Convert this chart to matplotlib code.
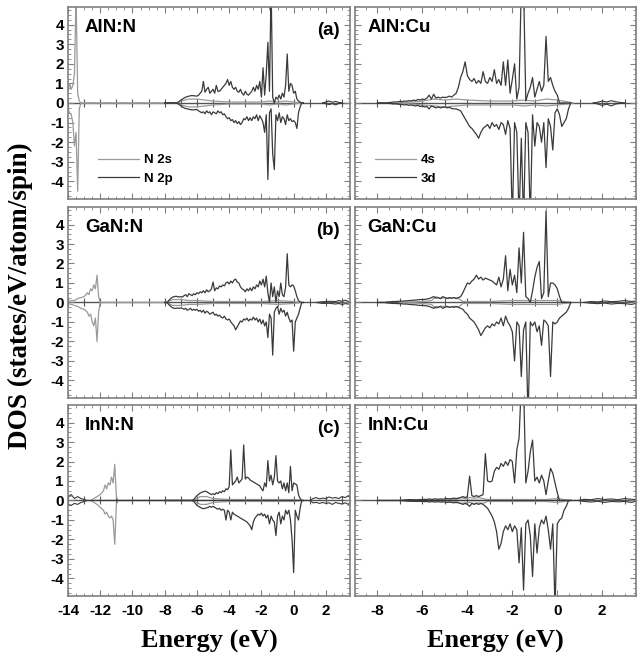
import numpy as np
import matplotlib
matplotlib.use("Agg")
import matplotlib.pyplot as plt
from matplotlib.ticker import MultipleLocator

plt.rcParams['font.family'] = 'Liberation Sans'
plt.rcParams['font.weight'] = 'bold'
plt.rcParams['axes.unicode_minus'] = False

# valence band energies (eV), 0.1 eV steps from -8.0 to 0.6
vb_energy = np.round(np.arange(-8.0, 0.65, 0.1), 1)

# ---------------- AlN:N ----------------
aln_n_2p_up = [
    0, 0, 0, 0, 0, 0, 0, 0, 0.02, 0.08,
    0.15, 0.2, 0.25, 0.3, 0.32, 0.35, 0.37, 0.38, 0.37, 0.36,
    0.35, 0.4, 0.5, 0.6, 1.1, 0.55, 0.7, 0.8, 0.5, 0.6,
    0.7, 0.5, 0.9, 0.6, 0.6, 0.7, 0.8, 0.9, 1.0, 1.2,
    0.9, 1.1, 0.8, 0.7, 0.8, 0.6, 0.55, 0.7, 0.5, 0.4,
    0.6, 0.45, 0.4, 0.5, 0.6, 0.8, 0.6, 0.9, 0.7, 1.1,
    0.3, 1.8, 0.4, 1.5, 3.1, 0.6, 6.0, 0.3, 0.0, 0.3,
    0.2, 0.4, 0.2, 0.5, 0.3, 0.9, 2.5, 0.6, 1.0, 0.9,
    0.5, 0.6, 0.2, 0.1, 0.05, 0, 0]
aln_n_2p_dn = [
    0, 0, 0, 0, 0, 0, 0, 0, -0.02, -0.08,
    -0.15, -0.2, -0.25, -0.28, -0.3, -0.32, -0.34, -0.35, -0.35, -0.34,
    -0.33, -0.4, -0.45, -0.5, -0.45, -0.55, -0.4, -0.5, -0.45, -0.6,
    -0.45, -0.5, -0.55, -0.4, -0.5, -0.45, -0.6, -0.55, -0.7, -0.8,
    -0.75, -0.9, -0.85, -1.0, -0.9, -1.05, -0.95, -1.1, -1.0, -0.8,
    -0.85, -0.7, -0.9, -0.75, -0.9, -0.7, -0.8, -0.6, -0.9, -0.65,
    -0.8, -1.0, -1.5, -0.6, -3.9, -0.5, -0.3, -2.6, -3.4, -0.6,
    -0.9, -0.5, -1.0, -0.7, -0.8, -1.1, -0.6, -0.9, -0.8, -0.95,
    -0.9, -1.0, -1.3, -0.5, -0.2, 0, 0]
aln_n_2s_e = [-14.0, -13.9, -13.8, -13.7, -13.6, -13.5, -13.4, -13.3, -13.2,
              -7.3, -7.0, -6.5, -6.0, -5.5, -5.0, -4.0, -3.0, -2.0, -1.5, -1.0, -0.5, 0.0, 0.5]
aln_n_2s_up = [0.6, 1.0, 0.7, 0.9, 1.5, 5.5, 0.5, 0.1, 0,
               0, 0.1, 0.2, 0.2, 0.15, 0.1, 0.05, 0.05, 0.05, 0.1, 0.05, 0.1, 0.05, 0]
aln_n_2s_dn = [-0.3, -0.5, -0.6, -1.0, -2.2, -1.5, -4.5, -0.3, 0,
               0, -0.1, -0.2, -0.2, -0.15, -0.1, -0.05, -0.05, -0.05, -0.1, -0.05, -0.1, -0.05, 0]
aln_n_tail_e = [1.8, 2.0, 2.2, 2.4, 2.6, 2.8, 3.0]
aln_n_tail_up = [0, 0.05, 0.1, 0.04, 0.08, 0.03, 0]
aln_n_tail_dn = [0, -0.04, -0.08, -0.03, -0.1, -0.02, 0]

# ---------------- GaN:N ----------------
gan_n_2p_up = [
    0, 0, 0.05, 0.15, 0.22, 0.28, 0.3, 0.32, 0.3, 0.28,
    0.3, 0.28, 0.35, 0.4, 0.3, 0.45, 0.4, 0.35, 0.45, 0.4,
    0.5, 0.45, 0.55, 0.5, 0.6, 0.5, 0.65, 0.55, 0.6, 0.7,
    1.05, 0.6, 0.75, 0.7, 0.85, 0.8, 0.9, 0.85, 1.0, 1.05,
    0.95, 1.1, 1.0, 1.15, 1.2, 1.05, 1.0, 0.8, 0.7, 0.65,
    0.55, 0.7, 0.6, 0.75, 0.6, 0.8, 0.7, 0.9, 0.8, 1.1,
    0.9, 1.2, 0.8, 1.35, 0.5, 0.0, 1.0, 0.3, 0.8, 0.0,
    0.6, 0.3, 1.0, 0.4, 0.3, 0.8, 2.5, 0.9, 0.8, 0.9,
    0.85, 0.6, 0.3, 0.1, 0.02, 0, 0]
gan_n_2p_dn = [
    0, 0, -0.05, -0.15, -0.22, -0.28, -0.3, -0.3, -0.28, -0.3,
    -0.28, -0.3, -0.35, -0.3, -0.4, -0.35, -0.3, -0.4, -0.35, -0.4,
    -0.35, -0.45, -0.4, -0.5, -0.4, -0.55, -0.45, -0.5, -0.6, -0.55,
    -0.5, -0.65, -0.6, -0.7, -0.65, -0.75, -0.8, -0.7, -0.85, -0.9,
    -0.85, -1.0, -1.1, -1.2, -1.4, -1.25, -1.1, -0.95, -1.0, -0.85,
    -0.9, -0.8, -0.95, -0.85, -0.9, -0.75, -0.9, -0.8, -1.0, -0.85,
    -1.1, -0.9, -1.2, -1.0, -1.8, -0.6, -0.8, -2.7, -0.5, -0.3,
    -0.2, -0.6, -0.3, -0.5, -0.4, -0.7, -0.5, -0.8, -1.0, -0.9,
    -2.5, -1.0, -0.8, -0.6, -0.3, 0, 0]
gan_n_2s_e = [-14.0, -13.8, -13.6, -13.4, -13.2, -13.0, -12.8, -12.7, -12.6, -12.5, -12.4,
              -12.3, -12.2, -12.1, -12.0,
              -7.9, -7.5, -7.0, -6.5, -6.0, -5.0, -4.0, -3.0, -2.0, -1.0, 0.0, 0.5]
gan_n_2s_up = [0.05, 0.1, 0.1, 0.2, 0.25, 0.3, 0.5, 0.4, 0.7, 0.6, 0.9, 0.7, 1.4, 0.3, 0,
               0, 0.15, 0.15, 0.1, 0.1, 0.05, 0.05, 0.05, 0.05, 0.1, 0.05, 0]
gan_n_2s_dn = [-0.05, -0.1, -0.15, -0.2, -0.3, -0.35, -0.5, -0.7, -0.6, -1.0, -1.2, -0.8, -2.0, -0.5, 0,
               0, -0.15, -0.15, -0.1, -0.1, -0.05, -0.05, -0.05, -0.05, -0.1, -0.05, 0]
gan_n_tail_e = [1.4, 1.8, 2.2, 2.6, 2.8, 3.0, 3.2, 3.4]
gan_n_tail_up = [0, 0.04, 0.06, 0.05, 0.1, 0.06, 0.12, 0.05]
gan_n_tail_dn = [0, -0.05, -0.04, -0.08, -0.05, -0.1, -0.06, -0.08]

# ---------------- InN:N ----------------
inn_n_2p_up = [
    0, 0, 0, 0, 0, 0, 0, 0, 0, 0,
    0, 0, 0, 0, 0, 0, 0, 0, 0.05, 0.15,
    0.25, 0.32, 0.38, 0.42, 0.45, 0.48, 0.45, 0.4, 0.35, 0.3,
    0.35, 0.3, 0.4, 0.35, 0.45, 0.4, 0.5, 0.45, 0.6, 0.55,
    0.7, 2.6, 0.8, 0.9, 1.0, 1.2, 0.9, 1.0, 1.1, 2.85,
    1.1, 1.2, 1.15, 1.05, 1.0, 0.95, 0.9, 0.85, 0.8, 0.75,
    0.6, 0.5, 0.9, 0.7, 2.05, 1.0, 1.3, 0.8, 1.2, 2.3,
    1.0, 0.9, 1.0, 0.6, 0.9, 0.5, 0.9, 0.4, 1.75, 0.5,
    0.9, 0.85, 0.8, 0.3, 0.1, 0, 0]
inn_n_2p_dn = [
    0, 0, 0, 0, 0, 0, 0, 0, 0, 0,
    0, 0, 0, 0, 0, 0, 0, 0, -0.05, -0.15,
    -0.25, -0.3, -0.35, -0.4, -0.42, -0.4, -0.38, -0.35, -0.3, -0.35,
    -0.3, -0.35, -0.4, -0.45, -0.4, -0.5, -0.45, -0.5, -1.0, -0.5,
    -0.6, -1.0, -0.6, -0.7, -0.75, -0.8, -0.85, -0.9, -0.95, -1.0,
    -1.05, -1.1, -1.2, -1.3, -1.5, -1.1, -0.9, -0.8, -0.7, -0.75,
    -0.65, -0.8, -0.7, -0.9, -0.75, -1.2, -0.8, -1.0, -1.1, -1.8,
    -0.8, -0.6, -1.2, -0.8, -1.0, -0.5, -0.7, -0.5, -1.0, -2.0,
    -3.7, -0.5, -0.8, -1.0, -0.4, 0, 0]
inn_n_2s_e = [-12.6, -12.4, -12.2, -12.0, -11.8, -11.7, -11.6, -11.5, -11.4, -11.3, -11.2, -11.1,
              -11.0, -10.9,
              -6.2, -5.8, -5.4, -5.0, -4.0, -3.0, -2.0, -1.0, 0.0, 0.5]
inn_n_2s_up = [0, 0.1, 0.2, 0.3, 0.5, 0.8, 0.6, 0.9, 0.8, 1.2, 0.9, 1.85, 0.2, 0,
               0, 0.2, 0.2, 0.1, 0.05, 0.05, 0.05, 0.05, 0.05, 0]
inn_n_2s_dn = [0, -0.1, -0.2, -0.35, -0.5, -0.7, -0.6, -0.8, -0.9, -0.8, -1.0, -2.25, -0.2, 0,
               0, -0.2, -0.2, -0.1, -0.05, -0.05, -0.05, -0.05, -0.05, 0]
inn_n_tail_e = [-14.0, -13.8, -13.6, -13.4, -13.2, -13.0, -12.8,
                1.0, 1.2, 1.4, 1.6, 1.8, 2.0, 2.2, 2.4, 2.6, 2.8, 3.0, 3.2, 3.4, 3.5]
inn_n_tail_up = [0.2, 0.3, 0.1, 0.2, 0.1, 0.05, 0,
                 0, 0.1, 0.15, 0.08, 0.12, 0.1, 0.18, 0.12, 0.15, 0.1, 0.2, 0.15, 0.25, 0.1]
inn_n_tail_dn = [-0.2, -0.25, -0.15, -0.2, -0.1, -0.05, 0,
                 0, -0.12, -0.1, -0.15, -0.1, -0.15, -0.12, -0.2, -0.1, -0.15, -0.18, -0.12, -0.2, -0.1]

# ---------------- AlN:Cu ----------------
aln_cu_3d_up = [
    0, 0, 0, 0, 0, 0.02, 0.03, 0.05, 0.05, 0.06,
    0.08, 0.07, 0.1, 0.09, 0.12, 0.1, 0.15, 0.12, 0.18, 0.15,
    0.2, 0.18, 0.25, 0.4, 0.2, 0.45, 0.25, 0.3, 0.25, 0.3,
    0.28, 0.3, 0.35, 0.3, 0.4, 0.5, 0.8, 1.3, 1.6, 2.1,
    1.4, 1.2, 1.1, 1.25, 1.0, 1.15, 1.0, 1.6, 1.1, 1.0,
    1.3, 1.1, 1.7, 1.0, 1.2, 0.9, 2.1, 0.9, 2.2, 0.5,
    1.2, 2.0, 0.2, 0.8, 6.0, 6.0, 0.1, 0.5, 0.8, 1.3,
    0.3, 0.7, 1.1, 0.6, 0.9, 3.4, 1.1, 1.3, 0.9, 0.6,
    0.4, 0.0, 0, 0, 0, 0, 0]
aln_cu_3d_dn = [
    0, 0, 0, 0, 0, -0.02, -0.03, -0.05, -0.04, -0.06,
    -0.07, -0.08, -0.1, -0.08, -0.12, -0.1, -0.13, -0.15, -0.12, -0.18,
    -0.15, -0.2, -0.18, -0.3, -0.15, -0.2, -0.25, -0.2, -0.25, -0.22,
    -0.2, -0.25, -0.22, -0.28, -0.3, -0.3, -0.35, -0.4, -0.6, -0.8,
    -1.0, -1.2, -1.3, -1.45, -1.6, -1.8, -1.5, -1.3, -1.2, -1.1,
    -1.3, -1.0, -1.2, -1.1, -1.35, -1.0, -1.1, -1.6, -0.9, -1.3,
    -6.0, -1.0, -1.5, -6.0, -1.8, -6.0, -1.0, -1.5, -6.0, -0.6,
    -2.2, -1.0, -1.2, -2.0, -1.0, -3.3, -0.8, -1.2, -2.4, -0.5,
    -0.3, -0.6, -1.2, -1.0, -0.8, -0.3, 0]
aln_cu_4s_e = [-7.0, -6.0, -5.5, -5.0, -4.5, -4.0, -3.0, -2.0, -1.5, -1.0, -0.5, 0.0, 0.5, 0.7]
aln_cu_4s_up = [0, 0.1, 0.2, 0.15, 0.2, 0.15, 0.1, 0.1, 0.15, 0.1, 0.2, 0.15, 0.05, 0]
aln_cu_4s_dn = [0, -0.1, -0.15, -0.2, -0.15, -0.1, -0.1, -0.1, -0.15, -0.1, -0.15, -0.1, -0.05, 0]
aln_cu_tail_e = [1.6, 1.8, 2.0, 2.2, 2.4, 2.6, 2.8, 3.0]
aln_cu_tail_up = [0, 0.04, 0.1, 0.05, 0.12, 0.06, 0.03, 0]
aln_cu_tail_dn = [0, -0.05, -0.12, -0.06, -0.15, -0.05, -0.02, 0]

# ---------------- GaN:Cu ----------------
gan_cu_3d_up = [
    0, 0, 0, 0, 0.02, 0.03, 0.04, 0.05, 0.05, 0.06,
    0.06, 0.07, 0.08, 0.08, 0.1, 0.1, 0.12, 0.12, 0.14, 0.15,
    0.15, 0.16, 0.18, 0.2, 0.25, 0.3, 0.22, 0.25, 0.2, 0.3,
    0.25, 0.2, 0.25, 0.22, 0.25, 0.2, 0.25, 0.3, 0.5, 0.75,
    1.0, 0.95, 1.1, 1.2, 1.4, 1.2, 1.3, 1.15, 1.25, 1.2,
    1.15, 1.1, 1.0, 0.9, 1.3, 0.8, 1.2, 2.4, 0.6, 1.7,
    0.9, 1.4, 0.5, 2.8, 1.0, 3.6, 0.3, 0.2, 0.0, 0.6,
    1.3, 1.8, 2.1, 0.2, 0.5, 4.7, 0.3, 1.0, 1.0, 0.9,
    0.7, 0.3, 0.0, 0, 0, 0, 0]
gan_cu_3d_dn = [
    0, 0, 0, 0, -0.02, -0.03, -0.04, -0.05, -0.05, -0.06,
    -0.06, -0.07, -0.08, -0.08, -0.1, -0.1, -0.12, -0.12, -0.14, -0.15,
    -0.15, -0.16, -0.18, -0.2, -0.25, -0.3, -0.22, -0.25, -0.2, -0.3,
    -0.25, -0.2, -0.25, -0.22, -0.25, -0.2, -0.25, -0.3, -0.35, -0.5,
    -0.6, -0.8, -0.9, -1.0, -1.2, -1.4, -1.7, -1.5, -1.3, -1.2,
    -1.3, -1.1, -1.2, -1.0, -1.1, -0.8, -1.2, -0.7, -1.0, -1.2,
    -1.5, -3.0, -1.0, -1.2, -3.8, -1.4, -1.0, -6.0, -1.0, -1.2,
    -1.0, -1.5, -1.2, -2.2, -0.9, -1.0, -1.2, -3.8, -1.0, -1.1,
    -1.0, -0.8, -0.7, -0.6, -0.5, -0.3, 0]
gan_cu_4s_e = [-7.0, -6.0, -5.6, -5.4, -5.2, -5.0, -4.8, -4.6, -4.4, -4.2, -3.0, -2.0, -1.0, 0.0, 0.3, 0.6]
gan_cu_4s_up = [0, 0.05, 0.1, 0.3, 0.2, 0.25, 0.2, 0.25, 0.2, 0.05, 0.05, 0.1, 0.1, 0.1, 0.05, 0]
gan_cu_4s_dn = [0, -0.05, -0.1, -0.3, -0.2, -0.2, -0.25, -0.2, -0.25, -0.05, -0.05, -0.1, -0.1, -0.1, -0.05, 0]
gan_cu_tail_e = [1.2, 1.5, 1.8, 2.1, 2.4, 2.7, 3.0, 3.3, 3.5]
gan_cu_tail_up = [0, 0.05, 0.03, 0.08, 0.04, 0.06, 0.1, 0.05, 0.08]
gan_cu_tail_dn = [0, -0.04, -0.06, -0.03, -0.08, -0.05, -0.06, -0.1, -0.05]

# ---------------- InN:Cu ----------------
inn_cu_3d_up = [
    0, 0, 0, 0, 0, 0, 0, 0, 0, 0,
    0, 0, 0, 0, 0, 0, 0, 0, 0.03, 0.05,
    0.04, 0.06, 0.05, 0.08, 0.06, 0.07, 0.08, 0.06, 0.08, 0.07,
    0.08, 0.1, 0.08, 0.1, 0.12, 0.1, 0.12, 0.15, 0.2, 0.15,
    0.2, 1.25, 0.25, 0.2, 0.25, 0.2, 0.25, 0.3, 2.4, 1.0,
    0.95, 1.0, 1.5, 1.7, 1.6, 1.9, 1.75, 2.0, 1.8, 2.1,
    2.0, 0.9, 2.6, 3.2, 6.0, 6.0, 0.9, 1.5, 2.5, 3.1,
    1.0, 1.2, 0.9, 1.3, 1.0, 0.3, 1.0, 1.65, 1.4, 0.9,
    0.4, 0.0, 0, 0, 0, 0, 0]
inn_cu_3d_dn = [
    0, 0, 0, 0, 0, 0, 0, 0, 0, 0,
    0, 0, 0, 0, 0, 0, 0, 0, -0.03, -0.05,
    -0.04, -0.06, -0.05, -0.08, -0.06, -0.07, -0.08, -0.06, -0.08, -0.07,
    -0.08, -0.1, -0.08, -0.1, -0.12, -0.1, -0.12, -0.15, -0.2, -0.15,
    -0.2, -0.3, -0.15, -0.2, -0.15, -0.2, -0.15, -0.2, -0.3, -0.4,
    -0.6, -0.8, -1.1, -1.6, -2.5, -2.2, -1.6, -1.3, -1.5, -1.2,
    -1.6, -1.3, -1.5, -3.2, -1.4, -4.6, -1.2, -1.0, -1.8, -3.9,
    -1.2, -2.7, -1.4, -1.0, -1.2, -0.8, -1.5, -2.5, -1.2, -5.5,
    -1.2, -1.0, -0.9, -0.5, -0.3, 0, 0]
inn_cu_4s_e = [-6.0, -5.0, -4.5, -4.3, -4.1, -3.9, -3.7, -3.5, -3.3, -3.1, -2.5, -1.5, -0.5, 0.0, 0.3, 0.6]
inn_cu_4s_up = [0, 0.02, 0.05, 0.15, 0.1, 0.15, 0.12, 0.15, 0.1, 0.05, 0.05, 0.05, 0.05, 0.1, 0.05, 0]
inn_cu_4s_dn = [0, -0.02, -0.05, -0.15, -0.12, -0.1, -0.15, -0.12, -0.15, -0.05, -0.05, -0.05, -0.05, -0.1, -0.05, 0]
inn_cu_tail_e = [-7.0, -6.6, -6.2, -5.8, 0.9, 1.2, 1.5, 1.8, 2.1, 2.4, 2.7, 3.0, 3.3, 3.5]
inn_cu_tail_up = [0, 0.05, 0.03, 0, 0, 0.06, 0.04, 0.1, 0.05, 0.08, 0.04, 0.1, 0.06, 0.05]
inn_cu_tail_dn = [0, -0.04, -0.05, 0, 0, -0.05, -0.08, -0.04, -0.1, -0.05, -0.07, -0.05, -0.1, -0.04]

light = '#9a9a9a'
dark = '#3a3a3a'
frame = '#808080'

col_x = [0.1056, 0.5512]
col_w = [0.438, 0.4363]
row_y = [0.6962, 0.3924, 0.0901]
row_h = [0.2931, 0.2916, 0.2916]
col_xlim = [(-14, 3.5), (-9, 3.5)]

panels = [
    dict(row=0, col=0, name='AlN:N', tag='(a)', s=(aln_n_2s_e, aln_n_2s_up, aln_n_2s_dn),
         d=(aln_n_2p_up, aln_n_2p_dn), t=(aln_n_tail_e, aln_n_tail_up, aln_n_tail_dn)),
    dict(row=1, col=0, name='GaN:N', tag='(b)', s=(gan_n_2s_e, gan_n_2s_up, gan_n_2s_dn),
         d=(gan_n_2p_up, gan_n_2p_dn), t=(gan_n_tail_e, gan_n_tail_up, gan_n_tail_dn)),
    dict(row=2, col=0, name='InN:N', tag='(c)', s=(inn_n_2s_e, inn_n_2s_up, inn_n_2s_dn),
         d=(inn_n_2p_up, inn_n_2p_dn), t=(inn_n_tail_e, inn_n_tail_up, inn_n_tail_dn)),
    dict(row=0, col=1, name='AlN:Cu', tag='', s=(aln_cu_4s_e, aln_cu_4s_up, aln_cu_4s_dn),
         d=(aln_cu_3d_up, aln_cu_3d_dn), t=(aln_cu_tail_e, aln_cu_tail_up, aln_cu_tail_dn)),
    dict(row=1, col=1, name='GaN:Cu', tag='', s=(gan_cu_4s_e, gan_cu_4s_up, gan_cu_4s_dn),
         d=(gan_cu_3d_up, gan_cu_3d_dn), t=(gan_cu_tail_e, gan_cu_tail_up, gan_cu_tail_dn)),
    dict(row=2, col=1, name='InN:Cu', tag='', s=(inn_cu_4s_e, inn_cu_4s_up, inn_cu_4s_dn),
         d=(inn_cu_3d_up, inn_cu_3d_dn), t=(inn_cu_tail_e, inn_cu_tail_up, inn_cu_tail_dn)),
]

fig = plt.figure(figsize=(6.44, 6.55), dpi=100)

for p in panels:
    r, c = p['row'], p['col']
    if len(p['d'][0]) != len(vb_energy) or len(p['d'][1]) != len(vb_energy):
        raise ValueError(p['name'] + ' length ' + str(len(p['d'][0])) + ' ' + str(len(p['d'][1])))
    ax = fig.add_axes([col_x[c], row_y[r], col_w[c], row_h[r]])
    se, sup, sdn = p['s']
    ls, = ax.plot(se, sup, color=light, lw=0.9)
    ax.plot(se, sdn, color=light, lw=0.9)
    te, tup, tdn = p['t']
    ax.plot(te, tup, color=dark, lw=0.8)
    ax.plot(te, tdn, color=dark, lw=0.8)
    ld, = ax.plot(vb_energy, p['d'][0], color=dark, lw=0.9)
    ax.plot(vb_energy, p['d'][1], color=dark, lw=0.9)

    ax.set_xlim(*col_xlim[c])
    ax.set_ylim(-4.9, 4.9)
    ax.xaxis.set_major_locator(MultipleLocator(2))
    ax.xaxis.set_minor_locator(MultipleLocator(0.5))
    ax.yaxis.set_major_locator(MultipleLocator(1))
    ax.yaxis.set_minor_locator(MultipleLocator(0.25))
    ax.tick_params(which='both', direction='in', top=True, right=True,
                   color=frame, labelsize=11, labelcolor='black')
    ax.tick_params(which='major', length=4, width=0.8)
    ax.tick_params(which='minor', length=2, width=0.6)
    ax.tick_params(axis='x', pad=6)
    ax.tick_params(axis='y', pad=3)
    if c == 1:
        ax.tick_params(labelleft=False)
    if r < 2:
        ax.tick_params(labelbottom=False)
    for lbl in ax.get_xticklabels() + ax.get_yticklabels():
        lbl.set_fontweight('bold')
    for sp in ax.spines.values():
        sp.set_color(frame)
        sp.set_linewidth(1.2)

    # zero line with its own ticks
    zero = ax.secondary_xaxis(0.5)
    zero.xaxis.set_major_locator(MultipleLocator(1))
    zero.tick_params(direction='inout', length=6, width=0.8, color='#555555',
                     labeltop=False, labelbottom=False)
    for sp in zero.spines.values():
        sp.set_color('#555555')
        sp.set_linewidth(1.0)

    ax.text(0.06 if c == 0 else 0.045, 0.935, p['name'], transform=ax.transAxes,
            fontsize=13.5, ha='left', va='top')
    if p['tag']:
        ax.text(0.965, 0.92, p['tag'], transform=ax.transAxes,
                fontsize=13.5, ha='right', va='top')

    if r == 0:
        labels = ['N 2s', 'N 2p'] if c == 0 else ['4s', '3d']
        ax.legend([ls, ld], labels, loc='lower left',
                  bbox_to_anchor=(0.106 if c == 0 else 0.071, 0.075),
                  frameon=False, fontsize=9.5, handlelength=3.1, handletextpad=0.4,
                  labelspacing=0.45, borderpad=0, borderaxespad=0)

for c in range(2):
    fig.text(col_x[c] + col_w[c] / 2, 0.012, 'Energy (eV)', family='Liberation Serif',
             fontsize=19, ha='center', va='baseline')
fig.text(0.031, 0.548, 'DOS (states/eV/atom/spin)', family='Liberation Serif',
         fontsize=19.5, rotation=90, ha='center', va='center')

fig.savefig('out.png', dpi=100)
